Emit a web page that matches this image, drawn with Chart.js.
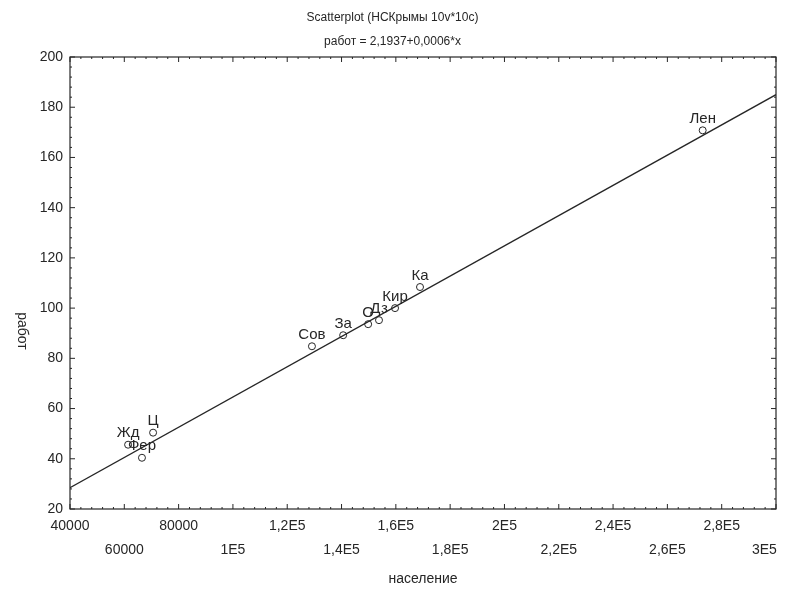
<!DOCTYPE html>
<html>
<head>
<meta charset="utf-8">
<script src="https://cdn.jsdelivr.net/npm/chart.js@4/dist/chart.umd.min.js"></script>
<style>
  html, body { margin: 0; padding: 0; background: #fff; }
  #wrap { width: 785px; height: 591px; }
</style>
</head>
<body>
<div id="wrap"><canvas id="chart" width="785" height="591"></canvas></div>
<script>
// city labels, population (население) and jobs (работ)
const names = ["Лен", "Ка", "Кир", "Дз", "О", "За", "Сов", "Ц", "Жд", "Фер"];
const population = [273000, 168900, 159700, 153800, 149800, 140600, 129100, 70600, 61400, 66500];
const jobs = [170.8, 108.4, 100, 95.2, 93.6, 89.2, 84.8, 50.4, 45.6, 40.4];

// regression line ends
const fitX = [40000, 300000];
const fitY = [28.5, 185];

const xTickValues = [40000, 60000, 80000, 100000, 120000, 140000, 160000, 180000, 200000, 220000, 240000, 260000, 280000, 300000];
const xTickLabels = ["40000", "60000", "80000", "1E5", "1,2E5", "1,4E5", "1,6E5", "1,8E5", "2E5", "2,2E5", "2,4E5", "2,6E5", "2,8E5", "3E5"];
const yTickValues = [20, 40, 60, 80, 100, 120, 140, 160, 180, 200];

const titleLines = ["Scatterplot (НСКрымы 10v*10c)", "работ = 2,1937+0,0006*x"];
const xTitle = "население";
const yTitle = "работ";

const ink = "#262626";
const font = "'Liberation Sans', Arial, sans-serif";

// frame, inward ticks, rotated y title and point labels
const decor = {
  id: "decor",
  afterDraw(chart) {
    const ctx = chart.ctx;
    const a = chart.chartArea;
    const xs = chart.scales.x;
    const ys = chart.scales.y;
    ctx.save();
    ctx.strokeStyle = ink;
    ctx.lineWidth = 1.2;
    ctx.strokeRect(a.left, a.top, a.right - a.left, a.bottom - a.top);

    // x ticks, major + minor, pointing into the plot
    ctx.lineWidth = 1;
    ctx.beginPath();
    for (let i = 0; i < xTickValues.length; i++) {
      const px = xs.getPixelForValue(xTickValues[i]);
      ctx.moveTo(px, a.bottom); ctx.lineTo(px, a.bottom - 5);
      ctx.moveTo(px, a.top); ctx.lineTo(px, a.top + 5);
      if (i < xTickValues.length - 1) {
        const step = (xTickValues[i + 1] - xTickValues[i]) / 5;
        for (let k = 1; k < 5; k++) {
          const mx = xs.getPixelForValue(xTickValues[i] + k * step);
          ctx.moveTo(mx, a.bottom); ctx.lineTo(mx, a.bottom - 2);
          ctx.moveTo(mx, a.top); ctx.lineTo(mx, a.top + 2);
        }
      }
    }
    for (let i = 0; i < yTickValues.length; i++) {
      const py = ys.getPixelForValue(yTickValues[i]);
      ctx.moveTo(a.left, py); ctx.lineTo(a.left + 5, py);
      ctx.moveTo(a.right, py); ctx.lineTo(a.right - 5, py);
      if (i < yTickValues.length - 1) {
        const step = (yTickValues[i + 1] - yTickValues[i]) / 5;
        for (let k = 1; k < 5; k++) {
          const my = ys.getPixelForValue(yTickValues[i] + k * step);
          ctx.moveTo(a.left, my); ctx.lineTo(a.left + 2, my);
          ctx.moveTo(a.right, my); ctx.lineTo(a.right - 2, my);
        }
      }
    }
    ctx.stroke();

    // y title reads top to bottom
    ctx.fillStyle = ink;
    ctx.font = "14px " + font;
    ctx.textAlign = "center";
    ctx.textBaseline = "middle";
    ctx.translate(22, 331);
    ctx.rotate(Math.PI / 2);
    ctx.fillText(yTitle, 0, 0);
    ctx.restore();

    // labels above the points
    ctx.save();
    ctx.fillStyle = ink;
    ctx.font = "15px " + font;
    ctx.textAlign = "center";
    ctx.textBaseline = "bottom";
    const meta = chart.getDatasetMeta(1);
    meta.data.forEach((pt, i) => {
      ctx.fillText(names[i], pt.x, pt.y - 4);
    });
    ctx.restore();
  }
};

new Chart(document.getElementById("chart"), {
  type: "scatter",
  data: {
    datasets: [
      {
        type: "line",
        data: fitX.map((x, i) => ({ x: x, y: fitY[i] })),
        borderColor: ink,
        borderWidth: 1.3,
        pointRadius: 0,
        fill: false,
      },
      {
        data: population.map((x, i) => ({ x: x, y: jobs[i] })),
        pointRadius: 3.5,
        pointBackgroundColor: "#fff",
        pointBorderColor: ink,
        pointBorderWidth: 1,
      },
    ],
  },
  options: {
    responsive: false,
    animation: false,
    layout: { padding: 0 },
    plugins: {
      legend: { display: false },
      tooltip: { enabled: false },
      title: {
        display: true,
        text: titleLines,
        color: ink,
        font: { family: font, size: 12, weight: "normal", lineHeight: 2 },
        padding: { top: 6, bottom: 3 },
      },
    },
    scales: {
      x: {
        type: "linear",
        min: 40000,
        max: 300000,
        grid: { display: false, drawTicks: false },
        border: { display: false },
        afterBuildTicks: (scale) => {
          scale.ticks = xTickValues.map((v) => ({ value: v }));
        },
        afterFit: (scale) => {
          scale.height = 82;
          scale.paddingLeft = 0;
          scale.paddingRight = 9;
        },
        ticks: {
          autoSkip: false,
          maxRotation: 0,
          color: ink,
          padding: 6,
          font: { family: font, size: 14, lineHeight: 1.65 },
          callback: (value) => {
            const i = xTickValues.indexOf(value);
            let label = xTickLabels[i];
            // keep the last label inside the canvas, as in the original
            if (i === xTickValues.length - 1) label = label + "      ";
            return i % 2 === 0 ? [label, ""] : ["", label];
          },
        },
        title: {
          display: true,
          text: xTitle,
          color: ink,
          font: { family: font, size: 14 },
          padding: { top: 0, bottom: 3 },
        },
      },
      y: {
        min: 20,
        max: 200,
        grid: { display: false, drawTicks: false },
        border: { display: false },
        afterBuildTicks: (scale) => {
          scale.ticks = yTickValues.map((v) => ({ value: v }));
        },
        afterFit: (scale) => { scale.width = 70; },
        ticks: {
          color: ink,
          padding: 7,
          font: { family: font, size: 14 },
        },
      },
    },
  },
  plugins: [decor],
});
</script>
</body>
</html>
